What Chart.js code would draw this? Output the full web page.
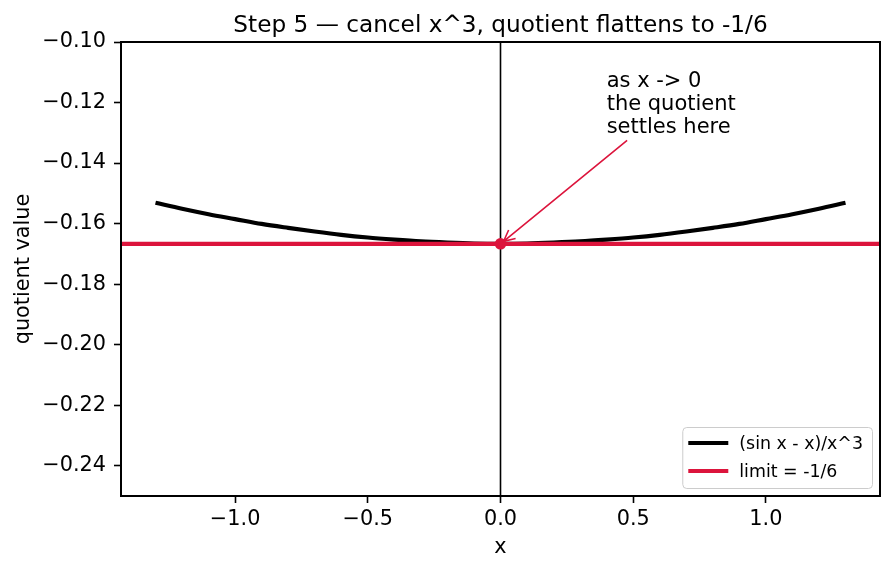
<!DOCTYPE html>
<html>
<head>
<meta charset="utf-8">
<script src="https://cdn.jsdelivr.net/npm/chart.js@4.4.1/dist/chart.umd.min.js"></script>
<style>
  html, body { margin: 0; padding: 0; background: #fff; }
  #chart { display: block; }
</style>
</head>
<body>
<canvas id="chart" width="894" height="571"></canvas>
<script>
// data
const xValues = [-1.3, -1.2, -1.1, -1.0, -0.9, -0.8, -0.7, -0.6, -0.5, -0.4, -0.3, -0.2, -0.1, 0.0,
                 0.1, 0.2, 0.3, 0.4, 0.5, 0.6, 0.7, 0.8, 0.9, 1.0, 1.1, 1.2, 1.3];
const quotient = [-0.1531, -0.1551, -0.1569, -0.1585, -0.1601, -0.1614, -0.1626, -0.1637, -0.1646, -0.1653, -0.1659, -0.1663, -0.1666, -0.1667,
                  -0.1666, -0.1663, -0.1659, -0.1653, -0.1646, -0.1637, -0.1626, -0.1614, -0.1601, -0.1585, -0.1569, -0.1551, -0.1531];
const limitValue = -0.16667;
const xLimits = [-1.43, 1.43];
const yLimits = [-0.25, -0.10];
const xTicks = [-1.0, -0.5, 0.0, 0.5, 1.0];
const yTicks = [-0.24, -0.22, -0.20, -0.18, -0.16, -0.14, -0.12, -0.10];
const noteLines = ['as x -> 0', 'the quotient', 'settles here'];
const noteAt = [0.4, -0.13];
const titleText = 'Step 5 \u2014 cancel x^3, quotient flattens to -1/6';

const FONT = 'DejaVu Sans';
const RED = '#dc143c';

function fmt(v, d) {
    return (v < 0 ? '\u2212' : '') + Math.abs(v).toFixed(d);
}

// title, frame, annotation and legend drawn on top of the lines
const decor = {
    id: 'decor',
    afterDatasetsDraw(chart) {
        const ctx = chart.ctx;
        const a = chart.chartArea;
        const sx = chart.scales.x, sy = chart.scales.y;
        ctx.save();

        // title centred over the axes
        ctx.font = '23.2px "' + FONT + '"';
        ctx.fillStyle = '#000';
        ctx.textAlign = 'center';
        ctx.textBaseline = 'alphabetic';
        ctx.fillText(titleText, (a.left + a.right) / 2, a.top - 10.5);

        // axes frame
        ctx.strokeStyle = '#000';
        ctx.lineWidth = 2;
        ctx.strokeRect(a.left, a.top, a.right - a.left, a.bottom - a.top);

        // annotation text
        const fs = 21, lh = 23;
        ctx.font = fs + 'px "' + FONT + '"';
        ctx.textAlign = 'left';
        const tx = sx.getPixelForValue(noteAt[0]);
        const lastBase = sy.getPixelForValue(noteAt[1]);
        let maxW = 0;
        noteLines.forEach((t, i) => {
            const by = lastBase - (noteLines.length - 1 - i) * lh;
            ctx.fillText(t, tx, by);
            maxW = Math.max(maxW, ctx.measureText(t).width);
        });
        const boxTop = lastBase - (noteLines.length - 1) * lh - 0.76 * fs;
        const boxBot = lastBase + 0.24 * fs;
        const cx = tx + maxW / 2, cy = (boxTop + boxBot) / 2;

        // arrow from text box to the limit point
        const px = sx.getPixelForValue(0), py = sy.getPixelForValue(limitValue);
        let dx = px - cx, dy = py - cy;
        const len = Math.hypot(dx, dy);
        dx /= len; dy /= len;
        const tOut = (boxBot - cy) / dy;
        const x0 = cx + (tOut + 4) * dx, y0 = cy + (tOut + 4) * dy;
        const x1 = px - 4 * dx, y1 = py - 4 * dy;
        ctx.strokeStyle = RED;
        ctx.lineWidth = 1.6;
        ctx.beginPath();
        ctx.moveTo(x0, y0);
        ctx.lineTo(x1, y1);
        const hl = 11, hw = 5.5;
        const nx = -dy, ny = dx;
        ctx.moveTo(x1 - hl * dx + hw * nx, y1 - hl * dy + hw * ny);
        ctx.lineTo(x1, y1);
        ctx.lineTo(x1 - hl * dx - hw * nx, y1 - hl * dy - hw * ny);
        ctx.stroke();

        // legend box, lower right
        const items = chart.data.datasets.filter(d => d.inLegend);
        const lfs = 17.4;
        ctx.font = lfs + 'px "' + FONT + '"';
        let tw = 0;
        items.forEach(d => { tw = Math.max(tw, ctx.measureText(d.label).width); });
        const bw = 57 + tw + 9, bh = 61;
        const bx = a.right - 8 - bw, by = a.bottom - 8 - bh;
        ctx.beginPath();
        ctx.roundRect(bx + 0.5, by + 0.5, bw, bh, 4);
        ctx.fillStyle = 'rgba(255,255,255,0.8)';
        ctx.fill();
        ctx.strokeStyle = '#cccccc';
        ctx.lineWidth = 1;
        ctx.stroke();
        ctx.textBaseline = 'middle';
        items.forEach((d, i) => {
            const ry = by + 16 + i * 28;
            ctx.strokeStyle = d.borderColor;
            ctx.lineWidth = 4.2;
            ctx.beginPath();
            ctx.moveTo(bx + 6, ry);
            ctx.lineTo(bx + 46, ry);
            ctx.stroke();
            ctx.fillStyle = '#000';
            ctx.fillText(d.label, bx + 57, ry + 1);
        });

        ctx.restore();
    }
};

const tickFont = { family: FONT, size: 20.8 };

new Chart(document.getElementById('chart'), {
    type: 'line',
    data: {
        datasets: [
            {
                label: '(sin x - x)/x^3',
                inLegend: true,
                data: xValues.map((x, i) => ({ x: x, y: quotient[i] })),
                borderColor: '#000',
                borderWidth: 4.2,
                pointRadius: 0,
                cubicInterpolationMode: 'monotone',
                order: 2
            },
            {
                label: 'limit = -1/6',
                inLegend: true,
                data: xLimits.map(x => ({ x: x, y: limitValue })),
                borderColor: RED,
                borderWidth: 4.2,
                pointRadius: 0,
                order: 1
            },
            {
                label: 'x = 0',
                data: yLimits.map(y => ({ x: 0, y: y })),
                borderColor: '#000',
                borderWidth: 1.6,
                pointRadius: 0,
                order: 3
            },
            {
                label: 'point',
                data: [{ x: 0, y: limitValue }],
                showLine: false,
                pointRadius: 5.8,
                pointBackgroundColor: RED,
                pointBorderWidth: 0,
                order: 0
            }
        ]
    },
    options: {
        responsive: false,
        animation: false,
        devicePixelRatio: 1,
        layout: { padding: { left: 0, right: 14, top: 42, bottom: 0 } },
        plugins: {
            legend: { display: false },
            tooltip: { enabled: false },
            title: { display: false }
        },
        scales: {
            x: {
                type: 'linear',
                min: xLimits[0],
                max: xLimits[1],
                afterBuildTicks: s => { s.ticks = xTicks.map(v => ({ value: v })); },
                afterFit: s => { s.height = 75; },
                border: { display: false },
                grid: { display: true, drawOnChartArea: false, drawTicks: true, tickLength: 7, tickWidth: 1.6, tickColor: '#000' },
                ticks: { color: '#000', font: tickFont, padding: 4, maxRotation: 0, autoSkip: false, callback: v => fmt(v, 1) },
                title: { display: true, text: 'x', color: '#000', font: { family: FONT, size: 20.8 }, padding: { top: 0, bottom: 11 } }
            },
            y: {
                type: 'linear',
                min: yLimits[0],
                max: yLimits[1],
                afterBuildTicks: s => { s.ticks = yTicks.map(v => ({ value: v })); },
                afterFit: s => { s.width = 121; },
                border: { display: false },
                grid: { display: true, drawOnChartArea: false, drawTicks: true, tickLength: 7, tickWidth: 1.6, tickColor: '#000' },
                ticks: { color: '#000', font: tickFont, padding: 8, autoSkip: false, callback: v => fmt(v, 2) },
                title: { display: true, text: 'quotient value', color: '#000', font: { family: FONT, size: 20.8 }, padding: { top: 11, bottom: 0 } }
            }
        }
    },
    plugins: [decor]
});
</script>
</body>
</html>
